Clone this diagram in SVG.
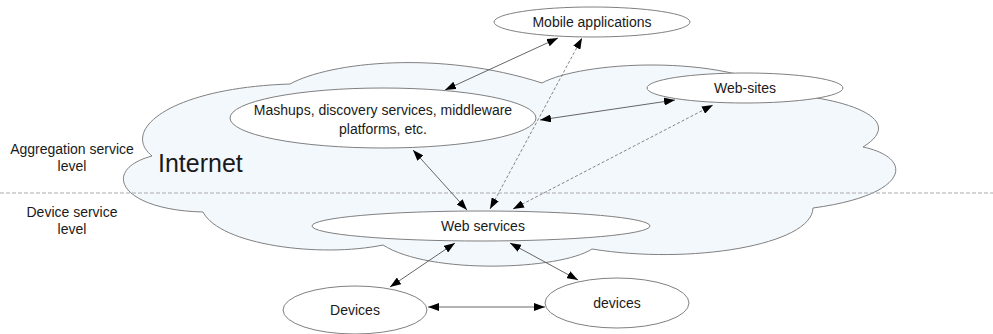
<svg xmlns="http://www.w3.org/2000/svg" width="993" height="334" viewBox="0 0 993 334">
<style>
.node ellipse{fill:#fff;stroke:#808080;stroke-width:1}
text{font-family:"Liberation Sans",Arial,sans-serif;fill:#1a1a1a;font-size:14px;text-anchor:middle}
.c{fill:none;stroke:#555;stroke-width:0.9;marker-start:url(#ah);marker-end:url(#ah)}
.d{stroke:#777;stroke-dasharray:3,2}
</style>
<defs>
<marker id="ah" viewBox="0 0 11 8" refX="11" refY="4" markerWidth="11" markerHeight="8" markerUnits="userSpaceOnUse" orient="auto-start-reverse">
<path d="M0,0 L11,4 L0,8 z" fill="#000"/>
</marker>
</defs>
<rect width="993" height="334" fill="#fff"/>
<g id="cloud">
<path d="M152,156 C120,130 170,88 290,84 C330,62 440,50 542,83 C580,62 720,52 790,95 C840,98 910,118 863,147 C915,158 910,195 813,208 C812,245 690,265 592,249 C560,270 430,275 383,245 C320,258 220,245 203,212 C120,210 100,170 152,156 Z" fill="#f3f8fd" stroke="#808080" stroke-width="1"/>
<text x="158" y="172" style="font-size:25px;text-anchor:start">Internet</text>
</g>
<line x1="0" y1="193" x2="993" y2="193" stroke="#aaa" stroke-width="1" stroke-dasharray="4,2"/>
<g id="levels">
<text x="72" y="154">Aggregation service</text>
<text x="72" y="171">level</text>
<text x="72" y="217">Device service</text>
<text x="72" y="234">level</text>
</g>
<g id="connectors">
<line class="c" x1="445" y1="90" x2="558" y2="38"/>
<line class="c d" x1="490" y1="209" x2="582" y2="38"/>
<line class="c" x1="413" y1="150" x2="467" y2="210"/>
<line class="c" x1="540" y1="120" x2="675" y2="100"/>
<line class="c d" x1="513" y1="209" x2="713" y2="105"/>
<line class="c" x1="455" y1="243" x2="390" y2="287"/>
<line class="c" x1="510" y1="243" x2="578" y2="280"/>
<line class="c" x1="428" y1="307" x2="545" y2="307"/>
</g>
<g id="mobile" class="node"><ellipse cx="592" cy="22" rx="98" ry="15"/><text x="592" y="27">Mobile applications</text></g>
<g id="mashups" class="node"><ellipse cx="383" cy="118" rx="153" ry="30"/><text x="383" y="115">Mashups, discovery services, middleware</text><text x="383" y="134">platforms, etc.</text></g>
<g id="websites" class="node"><ellipse cx="745" cy="88" rx="98" ry="15"/><text x="745" y="93">Web-sites</text></g>
<g id="webservices" class="node"><ellipse cx="481" cy="226" rx="169" ry="15"/><text x="483" y="231">Web services</text></g>
<g id="devices1" class="node"><ellipse cx="355" cy="310" rx="72" ry="24"/><text x="355" y="315">Devices</text></g>
<g id="devices2" class="node"><ellipse cx="617" cy="303" rx="72" ry="25"/><text x="617" y="308">devices</text></g>
</svg>
